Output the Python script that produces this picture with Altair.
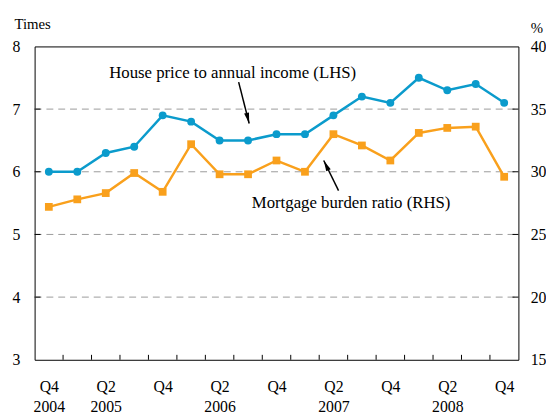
import json
import altair as alt
import pandas as pd

# ---- data ----
quarters = ["2004Q4", "2005Q1", "2005Q2", "2005Q3", "2005Q4", "2006Q1", "2006Q2", "2006Q3",
            "2006Q4", "2007Q1", "2007Q2", "2007Q3", "2007Q4", "2008Q1", "2008Q2", "2008Q3", "2008Q4"]
house_price_income = [6.0, 6.0, 6.3, 6.4, 6.9, 6.8, 6.5, 6.5, 6.6, 6.6, 6.9, 7.2, 7.1, 7.5, 7.3, 7.4, 7.1]
mortgage_burden = [27.2, 27.8, 28.3, 29.9, 28.4, 32.2, 29.8, 29.8, 30.9, 30.0, 33.0, 32.1, 30.9, 33.1, 33.5, 33.6, 29.6]

x_tick_labels = [["Q4", "2004"], ["Q2", "2005"], ["Q4"], ["Q2", "2006"], ["Q4"],
                 ["Q2", "2007"], ["Q4"], ["Q2", "2008"], ["Q4"]]
left_ticks = [3, 4, 5, 6, 7, 8]
right_ticks = [15, 20, 25, 30, 35, 40]
grid_values = [4, 5, 6, 7]

# annotations (in data units: quarter index, LHS value)
ann_text = ["House price to annual income (LHS)", "Mortgage burden ratio (RHS)"]
ann_text_x = [6.46, 10.62]
ann_text_y = [7.50, 5.417]
arrow_x0 = [6.67, 10.18]
arrow_y0 = [7.43, 5.70]
arrow_x1 = [7.04, 9.66]
arrow_y1 = [6.77, 6.18]
arrow_angle = [346, 154]

BLUE = "#0b9bcc"
ORANGE = "#f9a01c"
FONT = "Liberation Serif, Times New Roman, Times, serif"
W, H = 491, 318

n = len(quarters)
df = pd.DataFrame({"i": list(range(n)), "q": quarters,
                   "hp": house_price_income, "mb": mortgage_burden})
grid_df = pd.DataFrame({"v": grid_values})
xtick_df = pd.DataFrame({"t": [k + 0.5 for k in range(n - 1)]})
ann_df = pd.DataFrame({"text": ann_text, "x": ann_text_x, "y": ann_text_y})
arrow_df = pd.DataFrame({"x0": arrow_x0, "y0": arrow_y0, "x1": arrow_x1, "y1": arrow_y1,
                         "angle": arrow_angle})

xs = alt.Scale(domain=[-0.5, n - 0.5], nice=False, zero=False)
yl = alt.Scale(domain=[3, 8], nice=False, zero=False)
yr = alt.Scale(domain=[15, 40], nice=False, zero=False)

label_expr = json.dumps(x_tick_labels) + "[round(datum.value / 2)]"
x_axis = alt.Axis(values=list(range(0, n, 2)), labelExpr=label_expr, ticks=False, domain=False,
                  grid=False, title=None, labelPadding=19, labelLineHeight=20,
                  labelFontSize=16, labelColor="black", labelFont=FONT, labelBaseline="top")

left_axis = alt.Axis(values=left_ticks, grid=False, ticks=False, domain=False, labelPadding=15,
                     labelFontSize=16, labelColor="black", labelFont=FONT,
                     title="Times", titleAngle=0, titleX=-21, titleY=-18, titleAlign="left",
                     titleBaseline="alphabetic", titleFontSize=15, titleFontWeight="normal",
                     titleFont=FONT, titleColor="black")
right_axis = alt.Axis(values=right_ticks, orient="right", grid=False, ticks=False, domain=False,
                      labelPadding=12, labelFontSize=16, labelColor="black", labelFont=FONT,
                      title="%", titleAngle=0, titleX=12, titleY=-14, titleAlign="left",
                      titleBaseline="alphabetic", titleFontSize=15, titleFontWeight="normal",
                      titleFont=FONT, titleColor="black")

grid = alt.Chart(grid_df).mark_rule(color="#9a9a9a", strokeDash=[7, 5], strokeWidth=1).encode(
    y=alt.Y("v:Q", scale=yl, axis=left_axis), x=alt.value(0), x2=alt.value(W))
lticks = alt.Chart(grid_df).mark_rule(color="black", strokeWidth=1).encode(
    y=alt.Y("v:Q", scale=yl, axis=left_axis), x=alt.value(0), x2=alt.value(6))
rticks = alt.Chart(grid_df).mark_rule(color="black", strokeWidth=1).encode(
    y=alt.Y("v:Q", scale=yl, axis=left_axis), x=alt.value(W - 6), x2=alt.value(W))
bticks = alt.Chart(xtick_df).mark_rule(color="black", strokeWidth=1).encode(
    x=alt.X("t:Q", scale=xs, axis=x_axis), y=alt.value(H - 5), y2=alt.value(H))

blue_line = alt.Chart(df).mark_line(color=BLUE, strokeWidth=2.5).encode(
    x=alt.X("i:Q", scale=xs, axis=x_axis), y=alt.Y("hp:Q", scale=yl, axis=left_axis))
blue_pts = alt.Chart(df).mark_point(shape="circle", filled=True, color=BLUE, size=64, opacity=1).encode(
    x=alt.X("i:Q", scale=xs, axis=x_axis), y=alt.Y("hp:Q", scale=yl, axis=left_axis))

ann = alt.Chart(ann_df).mark_text(font=FONT, fontSize=17, color="black", align="center",
                                   baseline="alphabetic").encode(
    x=alt.X("x:Q", scale=xs, axis=x_axis), y=alt.Y("y:Q", scale=yl, axis=left_axis), text="text:N")
arrows = alt.Chart(arrow_df).mark_rule(color="black", strokeWidth=1.5).encode(
    x=alt.X("x0:Q", scale=xs, axis=x_axis), y=alt.Y("y0:Q", scale=yl, axis=left_axis),
    x2="x1:Q", y2="y1:Q")
heads = alt.Chart(arrow_df).mark_point(shape="M0,0L-0.23,-1L0.23,-1Z", filled=True, color="black",
                                       size=484, opacity=1, strokeWidth=0).encode(
    x=alt.X("x1:Q", scale=xs, axis=x_axis), y=alt.Y("y1:Q", scale=yl, axis=left_axis),
    angle=alt.Angle("angle:Q", scale=None))

left = alt.layer(grid, lticks, rticks, bticks, blue_line, blue_pts, arrows, heads, ann)

orange_line = alt.Chart(df).mark_line(color=ORANGE, strokeWidth=2.5).encode(
    x=alt.X("i:Q", scale=xs, axis=x_axis), y=alt.Y("mb:Q", scale=yr, axis=right_axis))
orange_pts = alt.Chart(df).mark_point(shape="square", filled=True, color=ORANGE, size=62, opacity=1).encode(
    x=alt.X("i:Q", scale=xs, axis=x_axis), y=alt.Y("mb:Q", scale=yr, axis=right_axis))
right = alt.layer(orange_line, orange_pts)

chart = alt.layer(left, right).resolve_scale(y="independent").properties(
    width=W, height=H,
    autosize=alt.AutoSizeParams(type="none"),
    padding={"left": 27, "top": 36, "right": 28, "bottom": 51},
).configure(font=FONT, background="white").configure_view(stroke="black", strokeWidth=1)

chart.save("out.html", embed_options={"renderer": "svg", "actions": False})
